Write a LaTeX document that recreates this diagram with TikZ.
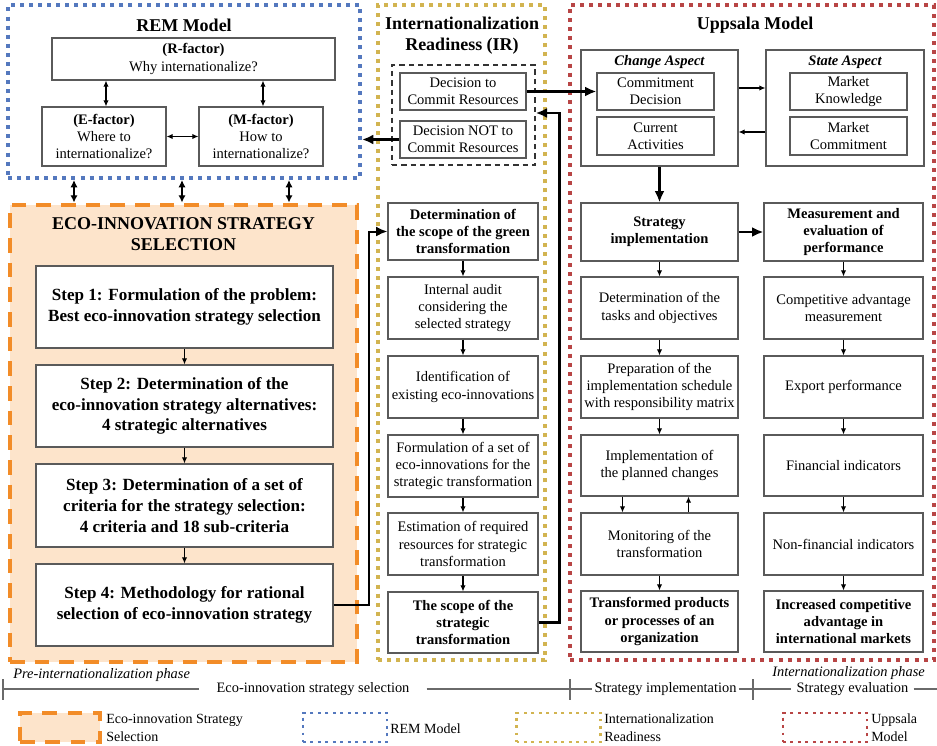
\documentclass[tikz,border=0pt]{standalone}
\usepackage{fontspec}
\setmainfont{Liberation Serif}
\usetikzlibrary{arrows.meta,calc}

\definecolor{remblue}{HTML}{5478BE}
\definecolor{irgold}{HTML}{D2B450}
\definecolor{upred}{HTML}{B84545}
\definecolor{ecoorange}{HTML}{F28C28}
\definecolor{ecofill}{HTML}{FDE4CB}
\definecolor{boxgray}{HTML}{5A5A5A}
\definecolor{linegray}{HTML}{6A6A6A}

\newcommand\boxfont{\fontsize{10.9}{13}\selectfont}
\newcommand\stepfont{\fontsize{12.8}{15.6}\selectfont\bfseries}
\newcommand\titlefont{\fontsize{13.5}{16}\selectfont\bfseries}
\newcommand\tlfont{\fontsize{10.8}{13}\selectfont}
\newcommand\legfont{\fontsize{10.5}{13.5}\selectfont}

\begin{document}
\begin{tikzpicture}[x=0.75pt,y=-0.75pt,
  sz/.style 2 args={minimum width=#1*0.75pt, minimum height=#2*0.75pt},
  bx/.style={draw=boxgray, line width=0.9pt, fill=white, align=center, inner sep=1pt, font=\boxfont},
  bbx/.style={bx, font=\boxfont\bfseries},
  stepbx/.style={bx, font=\stepfont},
  ttl/.style={align=center, inner sep=0pt, font=\titlefont},
  aspect/.style={inner sep=0pt, font=\boxfont\bfseries\itshape},
  dotframe/.style={line width=3pt, dash pattern=on 3pt off 3.8pt, inner sep=0pt},
  remframe/.style={dotframe, draw=remblue},
  irframe/.style={dotframe, draw=irgold},
  upframe/.style={dotframe, draw=upred},
  ecoframe/.style={draw=ecoorange, fill=ecofill, line width=3.6pt, dash pattern=on 11pt off 7.5pt, inner sep=0pt},
  dashbox/.style={draw=black!80, line width=1.1pt, dash pattern=on 4pt off 3pt, inner sep=0pt},
  tarr/.style={-{Latex[length=4.5pt,width=4pt]}, line width=0.8pt},
  tdarr/.style={{Latex[length=4.5pt,width=4pt]}-{Latex[length=4.5pt,width=4pt]}, line width=0.8pt},
  karr/.style={-{Latex[length=8.5pt,width=7.5pt]}, line width=1.7pt},
  darr/.style={{Latex[length=5.5pt,width=5.5pt]}-{Latex[length=5.5pt,width=5.5pt]}, line width=1.3pt},
  tline/.style={draw=linegray, line width=0.9pt},
  tl/.style={inner ysep=0pt, font=\tlfont},
  phase/.style={inner sep=0pt, font=\tlfont\itshape},
  legtext/.style={align=left, anchor=west, inner sep=0pt, font=\legfont},
  legdot/.style={line width=2.2pt, dash pattern=on 2.2pt off 3.4pt, inner sep=0pt, sz={84}{29}},
]
\fill[white] (0,0) rectangle (937,745);
\useasboundingbox (0,0) rectangle (937,745);

% ---------- outer frames ----------
\node[ecoframe, sz={347}{457}] (eco) at (183.5,433.5) {};
\node[remframe, sz={352}{173}] (rem) at (184,91.5) {};
\node[irframe, sz={167}{655}] (ir) at (461.5,332.5) {};
\node[upframe, sz={364}{655}] (up) at (752,332.5) {};

% ---------- titles ----------
\node[ttl] (remT) at (184,25) {REM Model};
\node[ttl, font=\fontsize{13.5}{15.75}\selectfont\bfseries] (ecoT) at (183.5,234.5) {ECO-INNOVATION STRATEGY\\SELECTION};
\node[ttl] (irT) at (462,36) {Internationalization\\Readiness (IR)};
\node[ttl] (upT) at (755,25) {Uppsala Model};

% ---------- REM model ----------
\node[bx, sz={283}{42}] (rf) at (193.5,59) {\textbf{(R-factor)}\\Why internationalize?};
\node[bx, sz={124}{59}] (ef) at (104,136.5) {\textbf{(E-factor)}\\Where to\\internationalize?};
\node[bx, sz={124}{59}] (mf) at (261,136.5) {\textbf{(M-factor)}\\How to\\internationalize?};
\draw[tdarr] ($(ef.north)+(2,0)$) -- ($(ef.north |- rf.south)+(2,0)$);
\draw[tdarr] ($(mf.north)+(2,0)$) -- ($(mf.north |- rf.south)+(2,0)$);
\draw[tdarr] (ef.east) -- (mf.west);

% ---------- eco-innovation strategy selection ----------
\node[stepbx, sz={297}{82}] (s1) at (184.5,307) {Step 1: Formulation of the problem:\\Best eco-innovation strategy selection};
\node[stepbx, sz={297}{82}] (s2) at (184.5,406) {Step 2: Determination of the\\eco-innovation strategy alternatives:\\4 strategic alternatives};
\node[stepbx, sz={297}{83}] (s3) at (184.5,505.5) {Step 3: Determination of a set of\\criteria for the strategy selection:\\4 criteria and 18 sub-criteria};
\node[stepbx, sz={297}{82}] (s4) at (184.5,605) {Step 4: Methodology for rational\\selection of eco-innovation strategy};
\draw[tarr] (s1) -- (s2);
\draw[tarr] (s2) -- (s3);
\draw[tarr] (s3) -- (s4);

\coordinate (d1) at (74,0);
\coordinate (d2) at (182,0);
\coordinate (d3) at (289,0);
\draw[darr] (rem.south -| d1) -- (eco.north -| d1);
\draw[darr] (rem.south -| d2) -- (eco.north -| d2);
\draw[darr] (rem.south -| d3) -- (eco.north -| d3);

% ---------- internationalization readiness ----------
\node[dashbox, sz={143}{100}] (dbox) at (463.5,115) {};
\node[bx, sz={126}{37}] (dc) at (463,91.5) {Decision to\\Commit Resources};
\node[bx, sz={126}{37}] (dn) at (463,139.5) {Decision NOT to\\Commit Resources};

\node[bbx, sz={150}{57}] (g1) at (463,231.5) {Determination of\\the scope of the green\\transformation};
\node[bx, sz={150}{62}] (g2) at (463,308) {Internal audit\\considering the\\selected strategy};
\node[bx, sz={150}{62}] (g3) at (463,387) {Identification of\\existing eco-innovations};
\node[bx, sz={150}{62}] (g4) at (463,466) {Formulation of a set of\\eco-innovations for the\\strategic transformation};
\node[bx, sz={150}{62}] (g5) at (463,544) {Estimation of required\\resources for strategic\\transformation};
\node[bbx, sz={150}{61}] (g6) at (463,622.5) {The scope of the\\strategic\\transformation};
\draw[tarr] (g1) -- (g2);
\draw[tarr] (g2) -- (g3);
\draw[tarr] (g3) -- (g4);
\draw[tarr] (g4) -- (g5);
\draw[tarr] (g5) -- (g6);

% ---------- Uppsala model ----------
\node[bx, sz={157}{116}] (ca) at (659.5,108) {};
\node[bx, sz={158}{116}] (sa) at (845,108) {};
\node[aspect] (caT) at (659.5,62) {Change Aspect};
\node[aspect] (saT) at (845,62) {State Aspect};
\node[bx, sz={117}{37}] (cd) at (655.5,91.5) {Commitment\\Decision};
\node[bx, sz={117}{38}] (cu) at (655.5,136) {Current\\Activities};
\node[bx, sz={117}{37}] (mk) at (848.5,91.5) {Market\\Knowledge};
\node[bx, sz={117}{38}] (mc) at (848.5,136) {Market\\Commitment};
\draw[tarr] ($(ca.east)+(0,-20)$) -- ($(sa.west)+(0,-20)$);
\draw[tarr] ($(sa.west)+(0,24)$) -- ($(ca.east)+(0,24)$);

\node[bbx, sz={157}{58}] (si) at (659.5,232) {Strategy\\implementation};
\node[bbx, sz={159}{58}] (me) at (843.5,232) {Measurement and\\evaluation of\\performance};
\node[bx, sz={157}{62}] (l1) at (659.5,308) {Determination of the\\tasks and objectives};
\node[bx, sz={157}{62}] (l2) at (659.5,387) {Preparation of the\\implementation schedule\\with responsibility matrix};
\node[bx, sz={157}{61}] (l3) at (659.5,465.5) {Implementation of\\the planned changes};
\node[bx, sz={157}{62}] (l4) at (659.5,544) {Monitoring of the\\transformation};
\node[bbx, sz={157}{61}] (l5) at (659.5,621.5) {Transformed products\\or processes of an\\organization};
\node[bx, sz={159}{62}] (r1) at (843.5,308) {Competitive advantage\\measurement};
\node[bx, sz={159}{62}] (r2) at (843.5,387) {Export performance};
\node[bx, sz={159}{61}] (r3) at (843.5,465.5) {Financial indicators};
\node[bx, sz={159}{62}] (r4) at (843.5,544) {Non-financial indicators};
\node[bbx, sz={159}{61}] (r5) at (843.5,621.5) {Increased competitive\\advantage in\\international markets};

\draw[karr] (ca) -- (si);
\draw[karr] (si) -- (me);
\draw[tarr] (si) -- (l1);
\draw[tarr] (l1) -- (l2);
\draw[tarr] (l2) -- (l3);
\draw[tarr] ($(l3.south)+(-37,0)$) -- ($(l4.north)+(-37,0)$);
\draw[tarr] ($(l4.north)+(29,0)$) -- ($(l3.south)+(29,0)$);
\draw[tarr] (l4) -- (l5);
\draw[tarr] (me) -- (r1);
\draw[tarr] (r1) -- (r2);
\draw[tarr] (r2) -- (r3);
\draw[tarr] (r3) -- (r4);
\draw[tarr] (r4) -- (r5);

% ---------- links between the three blocks ----------
\draw[karr] (dn.west) -- (dn.west -| rem.east);
\draw[karr] (dc.east) -- (cd.west);
\draw[karr] (g6.east) -- ++(21,0) |- ($(dbox.east)+(0,-2)$);
\draw[karr, line width=1.5pt] (s4.east) -- ++(35,0) |- (g1.west);

% ---------- phase timeline ----------
\node[phase, anchor=west] (ph1) at (13,675) {Pre-internationalization phase};
\node[phase, anchor=east] (ph2) at (925,673) {Internationalization phase};
\coordinate (k0) at (3,689);
\coordinate (k1) at (570,689);
\coordinate (k2) at (753,689);
\coordinate (k3) at (937,689);
\node[tl, inner xsep=17*0.75pt] (tl1) at (313,689) {Eco-innovation strategy selection};
\node[tl, inner xsep=2*0.75pt] (tl2) at (665.5,689) {Strategy implementation};
\node[tl, inner xsep=5*0.75pt] (tl3) at (852.5,689) {Strategy evaluation};
\draw[tline] (k0) -- (tl1.west) (tl1.east) -- (k1) -- (tl2.west) (tl2.east) -- (k2) -- (tl3.west) (tl3.east) -- (k3);
\draw[tline] ($(k0)+(0,-10)$) -- ($(k0)+(0,11)$);
\draw[tline] ($(k1)+(0,-10)$) -- ($(k1)+(0,11)$);
\draw[tline] ($(k2)+(0,-10)$) -- ($(k2)+(0,11)$);

% ---------- legend ----------
\node[ecoframe, line width=3.4pt, dash pattern=on 11pt off 8pt, sz={80}{29}] (lg1) at (60,727.5) {};
\node[legtext] (lt1) at (106,728) {Eco-innovation Strategy\\Selection};
\node[legdot, draw=remblue] (lg2) at (345,727.5) {};
\node[legtext] (lt2) at (390,729) {REM Model};
\node[legdot, draw=irgold] (lg3) at (558.5,727.5) {};
\node[legtext] (lt3) at (604,728) {Internationalization\\Readiness};
\node[legdot, draw=upred] (lg4) at (825,727.5) {};
\node[legtext] (lt4) at (871,728) {Uppsala\\Model};
\end{tikzpicture}
\end{document}
